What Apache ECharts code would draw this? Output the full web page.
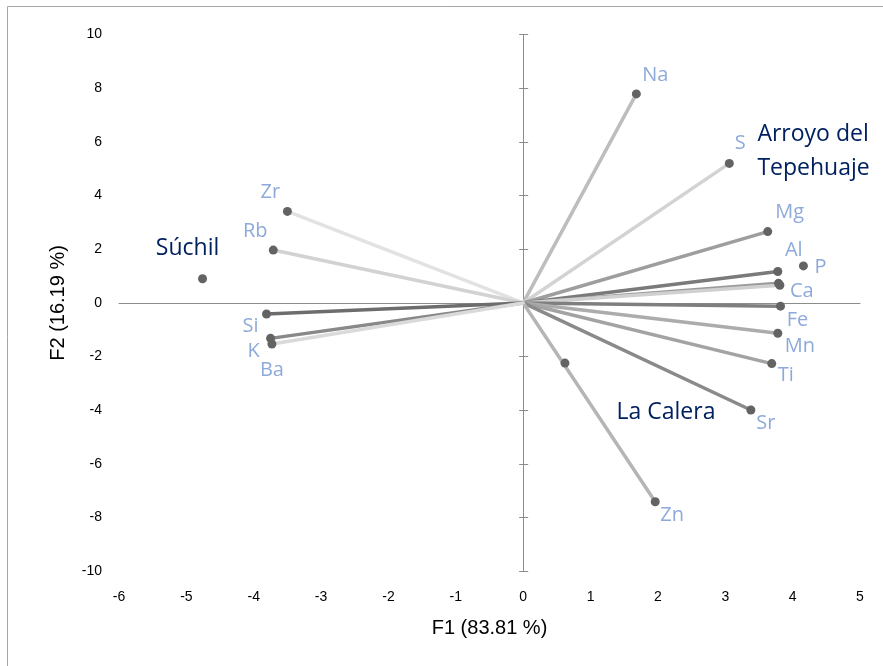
<!DOCTYPE html>
<html>
<head>
<meta charset="utf-8">
<script src="https://cdn.jsdelivr.net/npm/echarts@6/dist/echarts.min.js"></script>
<style>
  html, body { margin: 0; padding: 0; background: #ffffff; }
  #chart { width: 883px; height: 666px; }
</style>
</head>
<body>
<div id="chart"></div>
<script>
// Element loadings on the first two factors
const variables  = ['Na', 'S', 'Mg', 'Al', 'P', 'Ca', 'Fe', 'Mn', 'Ti', 'Sr', 'Zn', 'Zr', 'Rb', 'Si', 'K', 'Ba'];
const f1Loadings = [1.68, 3.06, 3.63, 3.78, 3.79, 3.81, 3.82, 3.78, 3.69, 3.38, 1.96, -3.50, -3.71, -3.81, -3.75, -3.73];
const f2Loadings = [7.79, 5.20, 2.66, 1.17, 0.73, 0.66, -0.12, -1.13, -2.26, -3.99, -7.41, 3.41, 1.97, -0.41, -1.32, -1.53];

// Site scores
const sites  = ['Súchil', 'La Calera', 'Arroyo del\nTepehuaje'];
const siteF1 = [-4.76, 0.62, 4.16];
const siteF2 = [0.90, -2.24, 1.38];

// Axis ranges
const xRange = { min: -6, max: 5, step: 1 };
const yRange = { min: -10, max: 10, step: 2 };

// Styling: vector line shades and label offsets (pixels from the end point)
const lineShade = {
  Na: '#bdbdbd', S: '#d3d3d3', Mg: '#9e9e9e', Al: '#7a7a7a', P: '#9a9a9a', Ca: '#d0d0d0',
  Fe: '#7f7f7f', Mn: '#acacac', Ti: '#a3a3a3', Sr: '#8a8a8a', Zn: '#b5b5b5',
  Zr: '#e2e2e2', Rb: '#d2d2d2', Si: '#6d6d6d', K: '#898989', Ba: '#dadada'
};
const varLabelOffset = {
  Na: [19, -19], S: [11, -20], Mg: [22, -19], Al: [16, -21], P: [42, -16], Ca: [22, 6],
  Fe: [17, 14], Mn: [22, 13], Ti: [14, 12], Sr: [15, 13], Zn: [17, 13],
  Zr: [-17, -19], Rb: [-18, -19], Si: [-16, 12], K: [-17, 13], Ba: [0, 26]
};
const siteLabelStyle = [
  { offset: [-15, -30], align: 'center' },
  { offset: [101, 49], align: 'center' },
  { offset: [-46, -114], align: 'left' }
];

const tickFont = "'Liberation Sans', Arial, sans-serif";
const labelFont = "'Open Sans', 'Noto Sans', sans-serif";
const dotColor = '#636363';

const chart = echarts.init(document.getElementById('chart'), null, { renderer: 'canvas' });

const vectorSeries = variables.map((name, i) => ({
  type: 'line',
  name: name,
  xAxisIndex: 0,
  yAxisIndex: 0,
  symbol: 'circle',
  symbolSize: 9,
  showSymbol: true,
  z: 3,
  lineStyle: { color: lineShade[name], width: 3.5, cap: 'round' },
  itemStyle: { color: dotColor, opacity: 1 },
  label: {
    show: true,
    position: 'inside',
    offset: varLabelOffset[name],
    formatter: name,
    color: '#8eaadb',
    fontFamily: labelFont,
    fontSize: 20
  },
  emphasis: { disabled: true },
  data: [
    { value: [0, 0], symbol: 'none', label: { show: false } },
    { value: [f1Loadings[i], f2Loadings[i]] }
  ]
}));

const siteSeries = {
  type: 'scatter',
  name: 'sites',
  symbol: 'circle',
  symbolSize: 9,
  z: 4,
  itemStyle: { color: dotColor, opacity: 1 },
  emphasis: { disabled: true },
  data: sites.map((s, i) => ({
    value: [siteF1[i], siteF2[i]],
    name: s,
    label: {
      show: true,
      position: 'inside',
      offset: siteLabelStyle[i].offset,
      align: siteLabelStyle[i].align,
      verticalAlign: 'middle',
      formatter: s,
      color: '#002060',
      opacity: 1,
      fontFamily: labelFont,
      fontSize: 23,
      lineHeight: 34
    }
  }))
};

const baseAxis = (r) => ({ type: 'value', min: r.min, max: r.max, interval: r.step, splitLine: { show: false } });

chart.setOption({
  animation: false,
  backgroundColor: '#ffffff',
  grid: { left: 119, right: 23, top: 34.6, bottom: 94.7, containLabel: false },
  graphic: [{
    type: 'rect',
    silent: true,
    shape: { x: 7.5, y: 6.5, width: 1000, height: 1000 },
    style: { fill: null, stroke: '#a6a6a6', lineWidth: 1 }
  }],
  xAxis: [
    Object.assign(baseAxis(xRange), {
      position: 'bottom',
      axisLine: { show: false, onZero: false },
      axisTick: { show: false },
      axisLabel: { margin: 19, fontSize: 14, color: '#000000', fontFamily: tickFont },
      name: 'F1 (83.81 %)',
      nameLocation: 'middle',
      nameGap: 47,
      nameTextStyle: { fontSize: 20, color: '#000000', fontFamily: tickFont }
    }),
    Object.assign(baseAxis(xRange), {
      axisLine: { show: true, onZero: true, onZeroAxisIndex: 0, lineStyle: { color: '#8c8c8c', width: 1 } },
      axisTick: { show: false },
      axisLabel: { show: false }
    })
  ],
  yAxis: [
    Object.assign(baseAxis(yRange), {
      position: 'left',
      axisLine: { show: false, onZero: false },
      axisTick: { show: false },
      axisLabel: { margin: 17, fontSize: 14, color: '#000000', fontFamily: tickFont },
      name: 'F2 (16.19 %)',
      nameLocation: 'middle',
      nameGap: 51,
      nameRotate: 90,
      nameTextStyle: { fontSize: 20, color: '#000000', fontFamily: tickFont }
    }),
    Object.assign(baseAxis(yRange), {
      position: 'left',
      axisLine: { show: true, onZero: true, onZeroAxisIndex: 0, lineStyle: { color: '#8c8c8c', width: 1 } },
      axisTick: { show: true, inside: true, length: 5, lineStyle: { color: '#8c8c8c', width: 1 } },
      axisLabel: { show: false }
    }),
    Object.assign(baseAxis(yRange), {
      position: 'left',
      axisLine: { show: false, onZero: true, onZeroAxisIndex: 0 },
      axisTick: { show: true, inside: false, length: 4, lineStyle: { color: '#8c8c8c', width: 1 } },
      axisLabel: { show: false }
    })
  ],
  series: vectorSeries.concat([siteSeries])
});
</script>
</body>
</html>
